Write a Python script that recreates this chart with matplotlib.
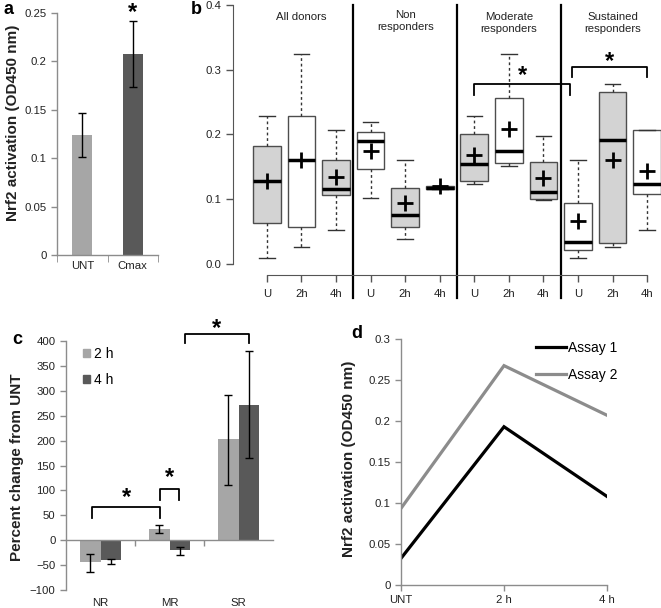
import matplotlib
matplotlib.use("Agg")
import matplotlib.pyplot as plt
from matplotlib.patches import Patch

plt.rcParams['font.family'] = ['Liberation Sans', 'DejaVu Sans']

# ---------------- data ----------------
# panel a
a_cats = ['UNT', 'Cmax']
a_vals = [0.124, 0.208]
a_err_lo = [0.101, 0.174]
a_err_hi = [0.147, 0.242]

# panel b (box plots)
b_labels = ['U', '2h', '4h'] * 4
b_groups = ['All donors', 'Non\nresponders', 'Moderate\nresponders', 'Sustained\nresponders']
b_whislo = [0.009, 0.026, 0.053, 0.102, 0.039, 0.1157, 0.123, 0.151, 0.099, 0.009, 0.026, 0.053]
b_q1     = [0.064, 0.057, 0.106, 0.146, 0.057, 0.1157, 0.1275, 0.156, 0.101, 0.022, 0.032, 0.108]
b_med    = [0.128, 0.160, 0.116, 0.190, 0.076, 0.118, 0.154, 0.175, 0.1105, 0.034, 0.192, 0.124]
b_q3     = [0.1825, 0.229, 0.160, 0.2046, 0.118, 0.1198, 0.2005, 0.256, 0.157, 0.0946, 0.266, 0.207]
b_whishi = [0.228, 0.324, 0.207, 0.220, 0.160, 0.1198, 0.228, 0.324, 0.198, 0.160, 0.278, 0.207]
b_mean   = [0.1275, 0.160, 0.135, 0.174, 0.094, 0.121, 0.168, 0.209, 0.1327, 0.067, 0.161, 0.143]
b_filled = [True, False, True, False, True, True, True, False, True, False, True, False]

# panel c
c_cats = ['NR', 'MR', 'SR']
c_2h = [-43.5, 23.4, 202.8]
c_2h_lo = [-63.6, 15.4, 110.4]
c_2h_hi = [-27.0, 31.5, 292.5]
c_4h = [-40.0, -20.0, 272.4]
c_4h_lo = [-47.0, -28.8, 165.3]
c_4h_hi = [-37.0, -13.4, 379.5]

# panel d
d_x = ['UNT', '2 h', '4 h']
d_assay1 = [0.0325, 0.193, 0.108]
d_assay2 = [0.0935, 0.2675, 0.207]

W, H = 661, 608
fig = plt.figure(figsize=(W / 100, H / 100), dpi=100)

def frac(l, t, r, b):
    return [l / W, 1 - b / H, (r - l) / W, (b - t) / H]

TXT = '#222222'
SPINE = '#8c8c8c'
TS = 8.2

def style_excel(ax):
    for s in ['top', 'right']:
        ax.spines[s].set_visible(False)
    for s in ['left', 'bottom']:
        ax.spines[s].set_color(SPINE)
        ax.spines[s].set_linewidth(1.0)
    ax.tick_params(colors=SPINE, labelcolor=TXT, labelsize=TS, direction='out', length=4, width=1)

# ---------------- panel a ----------------
axa = fig.add_axes(frac(57, 13, 158, 255))
xa = list(range(len(a_cats)))
yerr_a = [[v - l for v, l in zip(a_vals, a_err_lo)], [h - v for v, h in zip(a_vals, a_err_hi)]]
axa.bar(xa, a_vals, width=0.4, color=['#a6a6a6', '#595959'],
        yerr=yerr_a, capsize=3, error_kw=dict(elinewidth=1, capthick=1, ecolor='black'))
axa.set_xlim(-0.5, 1.5)
axa.set_ylim(0, 0.25)
style_excel(axa)
axa.set_yticks([0, 0.05, 0.1, 0.15, 0.2, 0.25])
axa.set_yticklabels(['0', '0.05', '0.1', '0.15', '0.2', '0.25'])
axa.set_xticks(xa)
axa.set_xticklabels(a_cats)
axa.tick_params(axis='x', length=0, pad=4)
axa.set_xticks([-0.5, 0.5, 1.5], minor=True)
axa.tick_params(axis='x', which='minor', length=5, color=SPINE)
axa.set_ylabel('Nrf2 activation (OD450 nm)', fontsize=11, fontweight='bold', va='center', color=TXT)
axa.yaxis.set_label_coords(-0.44, 0.545)
axa.text(1, 0.251, '*', ha='center', va='center', fontsize=17, fontweight='bold', clip_on=False)

# ---------------- panel b ----------------
axb = fig.add_axes(frac(233, 5, 661, 275))
pos = list(range(1, len(b_med) + 1))
stats = []
for i in range(len(b_med)):
    stats.append(dict(med=b_med[i], q1=b_q1[i], q3=b_q3[i], whislo=b_whislo[i],
                      whishi=b_whishi[i], mean=b_mean[i], fliers=[]))
bp = axb.bxp(stats, positions=pos, widths=0.8, showmeans=True, patch_artist=True,
             boxprops=dict(edgecolor='#4d4d4d', linewidth=1.0),
             medianprops=dict(color='black', linewidth=2.5),
             whiskerprops=dict(color='#333333', linewidth=1.0, linestyle=(0, (2, 2))),
             capprops=dict(color='#333333', linewidth=1.0),
             meanprops=dict(marker='+', markersize=11, markeredgewidth=2, markeredgecolor='black'),
             capwidths=0.45)
for patch, f in zip(bp['boxes'], b_filled):
    patch.set_facecolor('#d3d3d3' if f else 'white')
axb.set_xlim(0.02, 12.4)
axb.set_ylim(-0.017, 0.4)
for s in ['top', 'right']:
    axb.spines[s].set_visible(False)
axb.spines['left'].set_bounds(0, 0.4)
axb.spines['bottom'].set_bounds(1, 12)
for s in ['left', 'bottom']:
    axb.spines[s].set_color('#555555')
axb.set_yticks([0, 0.1, 0.2, 0.3, 0.4])
axb.set_yticklabels(['0.0', '0.1', '0.2', '0.3', '0.4'])
axb.set_xticks(pos)
axb.set_xticklabels(b_labels)
axb.tick_params(colors='#555555', labelcolor=TXT, labelsize=TS, direction='out', length=5, width=1)
axb.tick_params(axis='x', pad=5)
for xs in [3.5, 6.5, 9.5]:
    axb.plot([xs, xs], [-0.052, 0.4], color='black', lw=1.6, clip_on=False)
grp_y = [0.381, 0.375, 0.372, 0.372]
for g, name in enumerate(b_groups):
    axb.text(2 + 3 * g, grp_y[g], name, ha='center', va='center',
             fontsize=TS, color=TXT, linespacing=1.2)
# significance brackets
br_x = [[7.0, 9.76], [9.84, 12.0]]
br_top = [0.278, 0.305]
br_leg = [0.261, 0.289]
br_star = [0.291, 0.313]
for (x1, x2), yt, yl, ys in zip(br_x, br_top, br_leg, br_star):
    axb.plot([x1, x1, x2, x2], [yl, yt, yt, yl], color='black', lw=1.3)
    axb.text((x1 + x2) / 2, ys, '*', ha='center', va='center', fontsize=17, fontweight='bold')

# ---------------- panel c ----------------
axc = fig.add_axes(frac(66, 341, 273, 590))
xc = list(range(len(c_cats)))
bw = 0.29
err2 = [[v - l for v, l in zip(c_2h, c_2h_lo)], [h - v for v, h in zip(c_2h, c_2h_hi)]]
err4 = [[v - l for v, l in zip(c_4h, c_4h_lo)], [h - v for v, h in zip(c_4h, c_4h_hi)]]
ek = dict(elinewidth=1, capthick=1, ecolor='black')
axc.bar([x - bw / 2 for x in xc], c_2h, width=bw, color='#a6a6a6', yerr=err2, capsize=3, error_kw=ek)
axc.bar([x + bw / 2 for x in xc], c_4h, width=bw, color='#595959', yerr=err4, capsize=3, error_kw=ek)
axc.set_xlim(-0.5, 2.5)
axc.set_ylim(-100, 400)
style_excel(axc)
axc.spines['bottom'].set_position(('data', 0))
axc.set_yticks(range(-100, 401, 50))
axc.set_xticks([0.5, 1.5])
axc.set_xticklabels([])
for i, c in enumerate(c_cats):
    axc.text(i, -0.052, c, transform=axc.get_xaxis_transform(), ha='center', va='center',
             fontsize=TS, color=TXT)
axc.set_ylabel('Percent change from UNT', fontsize=11, fontweight='bold', va='center', color=TXT)
axc.yaxis.set_label_coords(-0.235, 0.494)
axc.legend(handles=[Patch(color='#a6a6a6', label='2 h'), Patch(color='#595959', label='4 h')],
           loc='upper left', bbox_to_anchor=(0.04, 1.01), frameon=False, fontsize=10,
           handlelength=0.55, handleheight=0.55, handletextpad=0.25, labelspacing=0.85,
           borderpad=0.1)
# brackets
cb_x = [[-0.12, 0.86], [0.86, 1.14], [1.22, 2.15]]
cb_top = [67, 102, 415]
cb_leg = [45, 80, 395]
cb_star = [86, 126, 425]
for (x1, x2), yt, yl, ys in zip(cb_x, cb_top, cb_leg, cb_star):
    axc.plot([x1, x1, x2, x2], [yl, yt, yt, yl], color='black', lw=1.3, clip_on=False)
    axc.text((x1 + x2) / 2, ys, '*', ha='center', va='center', fontsize=17, fontweight='bold')

# ---------------- panel d ----------------
axd = fig.add_axes(frac(401, 339, 607, 585))
xd = list(range(len(d_x)))
axd.plot(xd, d_assay1, color='black', lw=2.3, label='Assay 1', solid_joinstyle='miter')
axd.plot(xd, d_assay2, color='#8c8c8c', lw=2.3, label='Assay 2', solid_joinstyle='miter')
axd.set_xlim(0, 2)
axd.set_ylim(0, 0.3)
style_excel(axd)
axd.set_yticks([0, 0.05, 0.1, 0.15, 0.2, 0.25, 0.3])
axd.set_yticklabels(['0', '0.05', '0.1', '0.15', '0.2', '0.25', '0.3'])
axd.set_xticks(xd)
axd.set_xticklabels(d_x)
axd.tick_params(axis='x', pad=3)
axd.set_ylabel('Nrf2 activation (OD450 nm)', fontsize=11, fontweight='bold', va='center', color=TXT)
axd.yaxis.set_label_coords(-0.252, 0.512)
axd.legend(loc='upper right', bbox_to_anchor=(1.09, 1.025), frameon=False, fontsize=10,
           handlelength=2.2, handletextpad=0.1, labelspacing=0.9, borderpad=0.1)

# panel letters
for letter, (px, py) in zip('abcd', [(8, 9), (196, 9), (17, 340), (357, 334)]):
    fig.text(px / W, 1 - py / H, letter, fontsize=13, fontweight='bold', ha='center', va='center')

fig.savefig('out.png', dpi=100)
